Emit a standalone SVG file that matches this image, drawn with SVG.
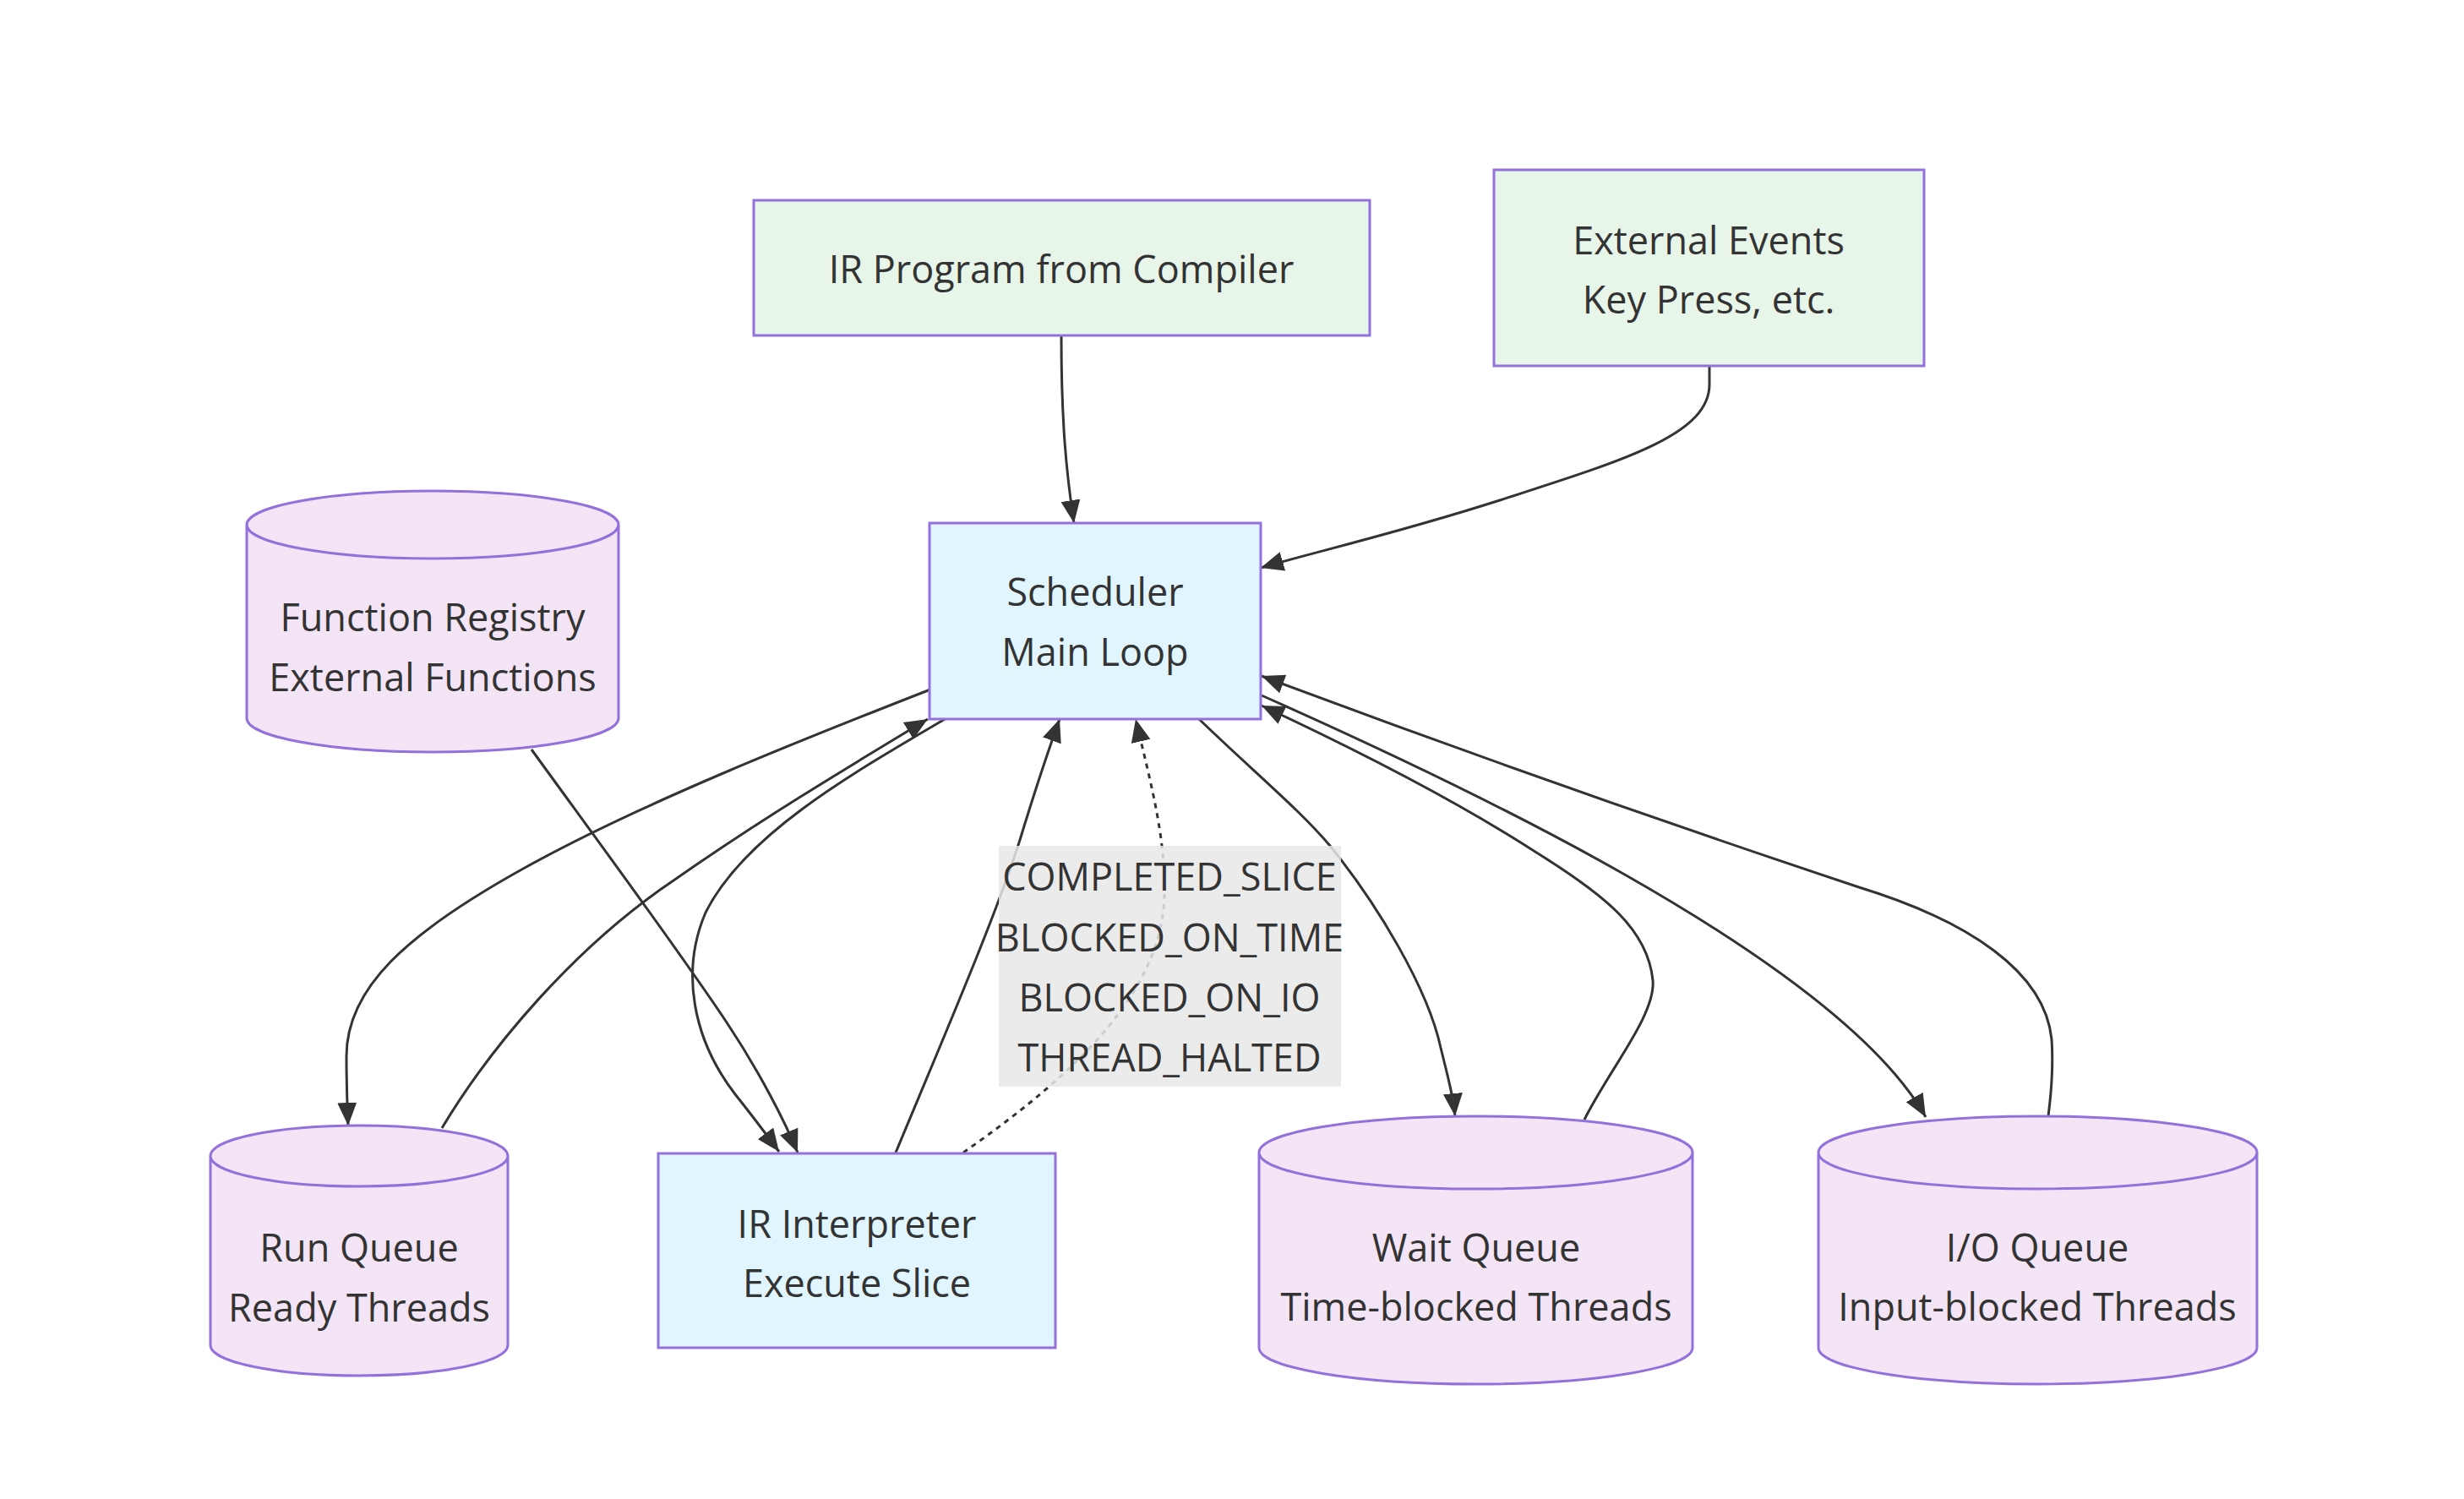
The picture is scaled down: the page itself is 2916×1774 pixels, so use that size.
<svg xmlns="http://www.w3.org/2000/svg" width="2916" height="1774" viewBox="0 0 2916 1774">
<style>
.bg{fill:#ffffff}
.ext rect{fill:#e8f5e9;stroke:#9370db;stroke-width:3}
.core rect{fill:#e1f5fe;stroke:#9370db;stroke-width:3}
.db path{fill:#f3e5f5;stroke:#9370db;stroke-width:3}
text{font-family:"Open Sans","Noto Sans","DejaVu Sans",sans-serif;font-size:45px;font-weight:500;fill:#333333;text-anchor:middle;dominant-baseline:central}
.edge{fill:none;stroke:#333333;stroke-width:3}
.dotted{stroke-dasharray:6 6}
.lbl rect{fill:#e8e8e8;opacity:0.85}
</style>
<defs>
<marker id="arrow" viewBox="0 0 10 10" refX="10" refY="5" markerUnits="userSpaceOnUse" markerWidth="27" markerHeight="23" preserveAspectRatio="none" orient="auto">
<path d="M0,0 L10,5 L0,10 z" fill="#333333"/>
</marker>
</defs>
<rect class="bg" x="0" y="0" width="2916" height="1774"/>

<g id="connectors">
<path class="edge" marker-end="url(#arrow)" d="M1256,397 C1256,500 1262,560 1271,619"/>
<path class="edge" marker-end="url(#arrow)" d="M2023,433 L2023,455 C2023,515 1920,545 1775,592 C1650,632 1560,652 1492,672"/>
<path class="edge" marker-end="url(#arrow)" d="M1101,816 C950,875 760,950 621,1027 C480,1105 410,1170 410,1250 C410,1290 411,1310 412,1332"/>
<path class="edge" marker-end="url(#arrow)" d="M523,1335 C580,1240 680,1120 800,1040 C900,970 1000,910 1098,851"/>
<path class="edge" marker-end="url(#arrow)" d="M1120,850 C1000,920 880,990 835,1080 C805,1150 820,1230 870,1295 C890,1320 905,1340 922,1363"/>
<path class="edge" marker-end="url(#arrow)" d="M629,887 C700,985 800,1120 860,1210 C900,1270 930,1330 944,1364"/>
<path class="edge" marker-end="url(#arrow)" d="M1060,1364 C1120,1220 1180,1080 1207,994 C1225,935 1240,890 1254,851"/>
<path class="edge dotted" marker-end="url(#arrow)" d="M1140,1364 C1260,1280 1375,1180 1378,1060 C1380,990 1360,920 1344,851"/>
<path class="edge" marker-end="url(#arrow)" d="M1419,851 C1480,910 1540,960 1574,1001 C1630,1070 1690,1170 1705,1240 C1715,1280 1720,1300 1722,1321"/>
<path class="edge" marker-end="url(#arrow)" d="M1875,1325 C1905,1265 1960,1200 1956,1160 C1950,1100 1900,1060 1820,1010 C1720,945 1600,885 1493,835"/>
<path class="edge" marker-end="url(#arrow)" d="M1493,823 C1700,915 2170,1130 2279,1322"/>
<path class="edge" marker-end="url(#arrow)" d="M2424,1321 C2428,1290 2430,1260 2428,1230 C2420,1150 2330,1090 2200,1050 C2050,1000 1800,915 1493,800"/>
<g class="lbl">
<rect x="1182" y="1001" width="405" height="285"/>
<text x="1384" y="1036">COMPLETED_SLICE</text>
<text x="1384" y="1108">BLOCKED_ON_TIME</text>
<text x="1384" y="1179">BLOCKED_ON_IO</text>
<text x="1384" y="1250">THREAD_HALTED</text>
</g>
</g>

<g id="ir_program" class="ext">
<rect x="892" y="237" width="729" height="160"/>
<text x="1256" y="317">IR Program from Compiler</text>
</g>
<g id="external_events" class="ext">
<rect x="1768" y="201" width="509" height="232"/>
<text x="2022" y="283">External Events</text>
<text x="2022" y="353">Key Press, etc.</text>
</g>
<g id="scheduler" class="core">
<rect x="1100" y="619" width="392" height="232"/>
<text x="1296" y="699">Scheduler</text>
<text x="1296" y="770">Main Loop</text>
</g>
<g id="function_registry" class="db">
<path d="M292,621 a220,40 0 0,0 440,0 a220,40 0 0,0 -440,0 l0,229 a220,40 0 0,0 440,0 l0,-229"/>
<text x="512" y="729">Function Registry</text>
<text x="512" y="800">External Functions</text>
</g>
<g id="run_queue" class="db">
<path d="M249,1368 a176,36 0 0,0 352,0 a176,36 0 0,0 -352,0 l0,224 a176,36 0 0,0 352,0 l0,-224"/>
<text x="425" y="1475">Run Queue</text>
<text x="425" y="1546">Ready Threads</text>
</g>
<g id="ir_interpreter" class="core">
<rect x="779" y="1365" width="470" height="230"/>
<text x="1014" y="1447">IR Interpreter</text>
<text x="1014" y="1517">Execute Slice</text>
</g>
<g id="wait_queue" class="db">
<path d="M1490,1364 a256.5,43 0 0,0 513,0 a256.5,43 0 0,0 -513,0 l0,231 a256.5,43 0 0,0 513,0 l0,-231"/>
<text x="1747" y="1475">Wait Queue</text>
<text x="1747" y="1545">Time-blocked Threads</text>
</g>
<g id="io_queue" class="db">
<path d="M2152,1364 a259.5,43 0 0,0 519,0 a259.5,43 0 0,0 -519,0 l0,231 a259.5,43 0 0,0 519,0 l0,-231"/>
<text x="2411" y="1475">I/O Queue</text>
<text x="2411" y="1545">Input-blocked Threads</text>
</g>
</svg>
